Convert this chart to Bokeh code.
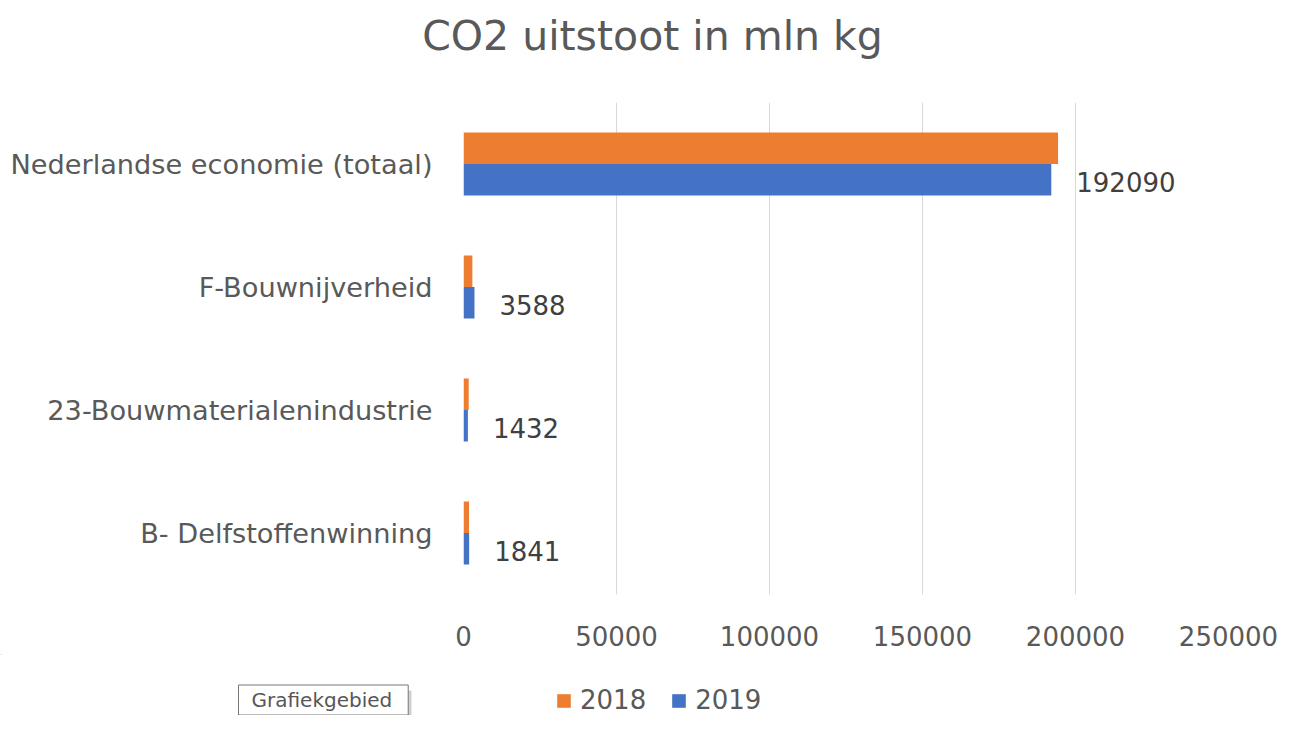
from bokeh.plotting import figure
from bokeh.models import (ColumnDataSource, FactorRange, Range1d, FixedTicker, NumeralTickFormatter,
                          LabelSet, Label, Legend, LegendItem, BoxAnnotation)
from bokeh.transform import dodge
from bokeh.core.properties import value
from bokeh.embed import file_html
from bokeh.resources import INLINE

categories = ["Nederlandse economie (totaal)", "F-Bouwnijverheid",
              "23-Bouwmaterialenindustrie", "B- Delfstoffenwinning"]
values_2018 = [194300, 2900, 1700, 1800]
values_2019 = [192090, 3588, 1432, 1841]
x_ticks = [0, 50000, 100000, 150000, 200000, 250000]
series_names = ["2018", "2019"]
title_text = "CO2 uitstoot in mln kg"

FONT = "DejaVu Sans"
TXT = "#595959"
ORANGE = "#ED7D31"
BLUE = "#4472C4"
W = 1279


def blank(h, y0, y1):
    f = figure(width=W, height=h, output_backend="svg", toolbar_location=None,
               title_location=None,
               x_range=Range1d(0, W), y_range=Range1d(y0, y1),
               x_axis_type=None, y_axis_type=None,
               min_border=0, min_border_left=0, min_border_right=0,
               min_border_top=0, min_border_bottom=0)
    f.outline_line_color = None
    f.xgrid.visible = False
    f.ygrid.visible = False
    return f


# ---- title strip (page y 0..102) ----
top = blank(102, 102, 0)
top.add_layout(Label(x=652, y=35, text=title_text, text_align="center",
                     text_baseline="alphabetic", text_font=FONT,
                     text_font_size="41px", text_color=TXT))

# ---- main chart (page y 102..654) ----
factors = list(reversed(categories))
src = ColumnDataSource(dict(cat=categories, v18=values_2018, v19=values_2019,
                            lab=[str(v) for v in values_2019]))

p = figure(frame_width=765, frame_height=492, output_backend="svg", toolbar_location=None,
           title_location=None,
           y_range=FactorRange(*factors, range_padding=0), x_range=Range1d(0, 250000),
           min_border_left=463, min_border_right=51, min_border_top=0, min_border_bottom=60)
p.outline_line_color = None

r18 = p.hbar(y=dodge("cat", 0.128, range=p.y_range), right="v18", left=0, height=0.256,
             source=src, fill_color=ORANGE, line_color=None)
r19 = p.hbar(y=dodge("cat", -0.128, range=p.y_range), right="v19", left=0, height=0.256,
             source=src, fill_color=BLUE, line_color=None)

p.add_layout(LabelSet(x="v19", y=dodge("cat", -0.128, range=p.y_range), text="lab", source=src,
                      x_offset=25, y_offset=-2, text_baseline="middle", text_align="left",
                      text_font=value(FONT), text_font_size="26px", text_color="#404040"))

p.xaxis.ticker = FixedTicker(ticks=x_ticks)
p.xaxis.formatter = NumeralTickFormatter(format="0")
p.xaxis.axis_line_color = None
p.xaxis.major_tick_line_color = None
p.xaxis.minor_tick_line_color = None
p.xaxis.major_label_standoff = 25
p.xaxis.major_label_text_font = FONT
p.xaxis.major_label_text_font_size = "26px"
p.xaxis.major_label_text_color = TXT

p.yaxis.axis_line_color = None
p.yaxis.major_tick_line_color = None
p.yaxis.minor_tick_line_color = None
p.yaxis.major_label_standoff = 25
p.yaxis.major_label_text_font = FONT
p.yaxis.major_label_text_font_size = "27.2px"
p.yaxis.major_label_text_color = TXT

p.ygrid.grid_line_color = None
p.xgrid.grid_line_color = "#D9D9D9"
p.xgrid.grid_line_width = 1

# ---- legend strip (page y 654..715) ----
bottom = blank(61, 715, 654)
# legend swatches only (placed far outside the visible range)
d18 = bottom.hbar(y=[-1000], right=[1], height=1, fill_color=ORANGE, line_color=None)
d19 = bottom.hbar(y=[-1000], right=[1], height=1, fill_color=BLUE, line_color=None)
bottom.add_layout(Legend(items=[LegendItem(label=series_names[0], renderers=[d18]),
                                LegendItem(label=series_names[1], renderers=[d19])],
                         orientation="horizontal", location=(555, 0),
                         label_text_font=FONT, label_text_font_size="26px", label_text_color=TXT,
                         glyph_width=17, glyph_height=17, label_standoff=8, spacing=24,
                         border_line_color=None, background_fill_alpha=0, padding=0, margin=0))

# "Grafiekgebied" tooltip with shadow
bottom.add_layout(BoxAnnotation(left=242, right=411, top=690, bottom=717,
                                fill_color="#c4c4c4", fill_alpha=0.8, line_color=None))
bottom.add_layout(Label(x=238, y=699.5, text="Grafiekgebied", text_baseline="middle",
                        text_font=FONT, text_font_size="20px", text_color="#575757",
                        background_fill_color="white", border_line_color="#767676",
                        padding=dict(left=13, right=16, top=3, bottom=3)))

open("out.html", "w").write(file_html([top, p, bottom], INLINE))
